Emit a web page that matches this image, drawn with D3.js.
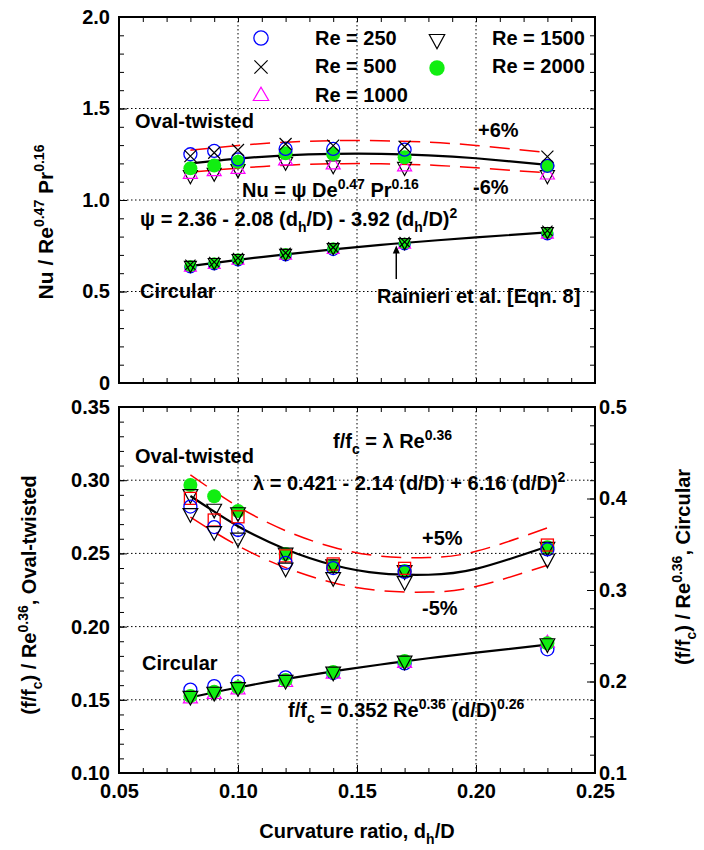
<!DOCTYPE html>
<html>
<head>
<meta charset="utf-8">
<script src="https://d3js.org/d3.v7.min.js"></script>
<style>
    body { margin: 0; background: #fff; }
    svg { font-family: "Liberation Sans", Arial, sans-serif; font-weight: bold; }
    .grid line { stroke: #000; stroke-width: 1; stroke-dasharray: 1.5,2.5; }
    .tick text { font-size: 20px; font-weight: bold; fill: #000; }
    .tick line { stroke: #000; stroke-width: 1; }
    .fit { fill: none; stroke: #000; stroke-width: 2.2; }
    .band { fill: none; stroke: #ff0000; stroke-width: 1.5; stroke-dasharray: 20,10; }
    .note { fill: #000; }
</style>
</head>
<body>
<script>
    // curvature ratios of the test coils
    var curv = [0.08, 0.09, 0.10, 0.12, 0.14, 0.17, 0.23];

    // top panel: Nu / Re^0.47 Pr^0.16, oval-twisted
    var nuOval250  = [1.250, 1.268, 1.222, 1.279, 1.279, 1.275, 1.187];
    var nuOval500  = [1.240, 1.258, 1.273, 1.306, 1.297, 1.291, 1.237];
    var nuOval1000 = [1.146, 1.160, 1.173, 1.219, 1.197, 1.187, 1.142];
    var nuOval1500 = [1.133, 1.146, 1.166, 1.206, 1.187, 1.178, 1.133];
    var nuOval2000 = [1.173, 1.188, 1.209, 1.255, 1.251, 1.233, 1.187];

    // top panel: circular
    var nuCirc250  = [0.632, 0.648, 0.670, 0.698, 0.727, 0.758, 0.812];
    var nuCirc500  = [0.646, 0.661, 0.683, 0.711, 0.741, 0.771, 0.832];
    var nuCirc1000 = [0.634, 0.650, 0.672, 0.700, 0.731, 0.760, 0.815];
    var nuCirc1500 = [0.641, 0.657, 0.679, 0.707, 0.738, 0.766, 0.826];
    var nuCirc2000 = [0.639, 0.654, 0.676, 0.705, 0.736, 0.763, 0.821];

    // fitted curves
    var fitX      = [0.08, 0.10, 0.12, 0.14, 0.16, 0.18, 0.20, 0.23];
    var nuOvalFit = [1.200, 1.226, 1.244, 1.252, 1.252, 1.244, 1.228, 1.192];
    var nuOvalUp  = [1.272, 1.298, 1.316, 1.324, 1.324, 1.316, 1.298, 1.260];
    var nuOvalLo  = [1.152, 1.174, 1.190, 1.198, 1.198, 1.191, 1.176, 1.148];
    var nuCircFit = [0.639, 0.673, 0.703, 0.730, 0.755, 0.776, 0.796, 0.823];

    // bottom panel: (f/fc) / Re^0.36, oval-twisted (left axis)
    var fOval250   = [0.2820, 0.2680, 0.2660, 0.2435, 0.2400, 0.2374, 0.2527];
    var fOvalSq    = [0.2876, 0.2728, 0.2750, 0.2483, 0.2428, 0.2398, 0.2557];
    var fOval2000  = [0.2967, 0.2890, 0.2790, 0.2496, 0.2416, 0.2379, 0.2542];
    var fOvalDnA   = [0.2900, 0.2800, 0.2776, 0.2500, 0.2420, 0.2380, 0.2540];
    var fOvalDnB   = [0.2770, 0.2647, 0.2602, 0.2398, 0.2333, 0.2306, 0.2460];
    var fOvalFit   = [0.2892, 0.2686, 0.2529, 0.2421, 0.2363, 0.2354, 0.2394, 0.2547];
    var fOvalUp    = [0.3037, 0.2820, 0.2655, 0.2542, 0.2481, 0.2472, 0.2514, 0.2674];
    var fOvalLo    = [0.2748, 0.2552, 0.2403, 0.2300, 0.2245, 0.2236, 0.2274, 0.2419];

    // bottom panel: circular (right axis)
    var fCirc250   = [0.1912, 0.1950, 0.1998, 0.2045, 0.2094, 0.2198, 0.2352];
    var fCirc1000  = [0.1820, 0.1870, 0.1920, 0.2000, 0.2090, 0.2210, 0.2430];
    var fCirc1500  = [0.1835, 0.1880, 0.1930, 0.2010, 0.2100, 0.2220, 0.2410];
    var fCirc2000  = [0.1842, 0.1889, 0.1937, 0.2016, 0.2105, 0.2224, 0.2418];
    var fCircFit   = [0.1826, 0.1934, 0.2028, 0.2111, 0.2186, 0.2254, 0.2316, 0.2402];

    // Rainieri arrow
    var arrowX = 0.1665, arrowFrom = 0.568, arrowTo = 0.752;

    var xTicks = [0.05, 0.10, 0.15, 0.20, 0.25];
    var yTopTicks = [0, 0.5, 1.0, 1.5, 2.0];
    var yBotTicks = [0.10, 0.15, 0.20, 0.25, 0.30, 0.35];
    var yRightTicks = [0.1, 0.2, 0.3, 0.4, 0.5];

    var svg = d3.select("body").append("svg")
        .attr("width", 704)
        .attr("height", 850);

    var x = d3.scaleLinear().domain([0.05, 0.25]).range([119, 595]);
    var yTop = d3.scaleLinear().domain([0, 2]).range([383, 17]);
    var yBot = d3.scaleLinear().domain([0.10, 0.35]).range([773, 407]);
    var yRight = d3.scaleLinear().domain([0.1, 0.5]).range([773, 407]);

    var xMinor = d3.range(0.06, 0.25, 0.01).map(function (d) { return +d.toFixed(2); });

    function panel(y, yMajor, yMinor, fmt) {
        var g = svg.append("g");
        var top = y.range()[1], bottom = y.range()[0];

        // grid
        var grid = g.append("g").attr("class", "grid");
        grid.selectAll(".gx").data(xTicks.slice(1, -1)).enter().append("line")
            .attr("x1", x).attr("x2", x).attr("y1", top).attr("y2", bottom);
        grid.selectAll(".gy").data(yMajor.slice(1, -1)).enter().append("line")
            .attr("x1", x.range()[0]).attr("x2", x.range()[1])
            .attr("y1", y).attr("y2", y);

        // inward ticks on every side
        g.append("g").attr("transform", "translate(0," + top + ")")
            .call(d3.axisTop(x).tickValues(xMinor).tickSize(-5).tickFormat(""));
        g.append("g").attr("transform", "translate(0," + bottom + ")")
            .call(d3.axisBottom(x).tickValues(xMinor).tickSize(-5).tickFormat(""));
        g.append("g").attr("transform", "translate(" + x.range()[0] + ",0)")
            .call(d3.axisLeft(y).tickValues(yMinor).tickSize(-5).tickFormat(""));
        g.append("g").attr("transform", "translate(" + x.range()[0] + ",0)")
            .call(d3.axisLeft(y).tickValues(yMajor).tickSize(-8).tickPadding(9).tickFormat(fmt));
        g.selectAll(".domain").remove();
        return g;
    }

    var topG = panel(yTop, yTopTicks, d3.range(0.1, 2, 0.1), function (d) { return d === 0 ? "0" : d.toFixed(1); });
    topG.append("g").attr("transform", "translate(595,0)")
        .call(d3.axisRight(yTop).tickValues(d3.range(0.1, 2, 0.1)).tickSize(-5).tickFormat(""))
        .select(".domain").remove();

    var botG = panel(yBot, yBotTicks, d3.range(0.11, 0.35, 0.01), d3.format(".2f"));
    botG.append("g").attr("transform", "translate(0,773)")
        .call(d3.axisBottom(x).tickValues(xTicks).tickSize(-8).tickPadding(11).tickFormat(d3.format(".2f")))
        .select(".domain").remove();
    botG.append("g").attr("transform", "translate(595,0)")
        .call(d3.axisRight(yRight).tickValues(d3.range(0.12, 0.5, 0.02)).tickSize(-5).tickFormat(""))
        .select(".domain").remove();
    botG.append("g").attr("transform", "translate(595,0)")
        .call(d3.axisRight(yRight).tickValues(yRightTicks).tickSize(-8).tickPadding(4).tickFormat(d3.format(".1f")))
        .select(".domain").remove();

    // markers
    function marker(g, type, cx, cy, s) {
        s = s || 1;
        if (type === "circle") {
            g.append("circle").attr("cx", cx).attr("cy", cy).attr("r", 6.5 * s)
                .attr("fill", "none").attr("stroke", "#0000ff").attr("stroke-width", 1.3);
        } else if (type === "dot") {
            g.append("circle").attr("cx", cx).attr("cy", cy).attr("r", 7 * s)
                .attr("fill", "#11ee11").attr("stroke", "none");
        } else if (type === "times") {
            var a = 6 * s;
            g.append("path").attr("d", "M" + (cx - a) + "," + (cy - a) + "L" + (cx + a) + "," + (cy + a) +
                "M" + (cx - a) + "," + (cy + a) + "L" + (cx + a) + "," + (cy - a))
                .attr("stroke", "#000").attr("stroke-width", 1.2);
        } else if (type === "triUp") {
            g.append("path").attr("d", "M" + (cx - 7 * s) + "," + (cy + 5 * s) + "L" + (cx + 7 * s) + "," + (cy + 5 * s) +
                "L" + cx + "," + (cy - 7 * s) + "Z")
                .attr("fill", "none").attr("stroke", "#ff00ff").attr("stroke-width", 1.2);
        } else if (type === "triDown") {
            g.append("path").attr("d", "M" + (cx - 7 * s) + "," + (cy - 5 * s) + "L" + (cx + 7 * s) + "," + (cy - 5 * s) +
                "L" + cx + "," + (cy + 8 * s) + "Z")
                .attr("fill", "none").attr("stroke", "#000").attr("stroke-width", 1.2);
        } else if (type === "square") {
            var h = 6 * s;
            g.append("rect").attr("x", cx - h).attr("y", cy - h).attr("width", 2 * h).attr("height", 2 * h)
                .attr("fill", "none").attr("stroke", "#ff0000").attr("stroke-width", 1.3);
        }
    }

    function series(g, vals, y, type, s) {
        var mg = g.append("g");
        vals.forEach(function (v, i) { marker(mg, type, x(curv[i]), y(v), s); });
    }

    function curve(g, vals, y, cls) {
        var line = d3.line()
            .x(function (d, i) { return x(fitX[i]); })
            .y(function (d) { return y(d); })
            .curve(d3.curveNatural);
        g.append("path").datum(vals).attr("class", cls).attr("d", line);
    }

    // top panel lines and points
    curve(topG, nuOvalUp, yTop, "band");
    curve(topG, nuOvalLo, yTop, "band");
    curve(topG, nuOvalFit, yTop, "fit");
    curve(topG, nuCircFit, yTop, "fit");

    series(topG, nuOval1500, yTop, "triDown");
    series(topG, nuOval1000, yTop, "triUp");
    series(topG, nuOval2000, yTop, "dot");
    series(topG, nuOval250, yTop, "circle");
    series(topG, nuOval500, yTop, "times");

    series(topG, nuCirc250, yTop, "circle", 0.85);
    series(topG, nuCirc1000, yTop, "triUp", 0.85);
    series(topG, nuCirc2000, yTop, "dot", 0.85);
    series(topG, nuCirc500, yTop, "times", 0.85);
    series(topG, nuCirc1500, yTop, "triDown", 0.85);

    // bottom panel lines and points
    curve(botG, fOvalUp, yBot, "band");
    curve(botG, fOvalLo, yBot, "band");
    curve(botG, fOvalFit, yBot, "fit");
    curve(botG, fCircFit, yRight, "fit");

    series(botG, fOval2000, yBot, "dot");
    series(botG, fOvalDnA, yBot, "triDown", 1.05);
    series(botG, fOvalSq, yBot, "square");
    series(botG, fOval250, yBot, "circle");
    series(botG, fOvalDnB, yBot, "triDown", 1.05);

    series(botG, fCirc250, yRight, "circle");
    series(botG, fCirc1000, yRight, "triUp");
    series(botG, fCirc2000, yRight, "dot");
    series(botG, fCirc1500, yRight, "triDown", 1.05);

    // frames
    [[17, 383], [407, 773]].forEach(function (r) {
        svg.append("rect").attr("x", 119).attr("y", r[0]).attr("width", 476).attr("height", r[1] - r[0])
            .attr("fill", "none").attr("stroke", "#000").attr("stroke-width", 2);
    });

    // arrow to Rainieri curve
    topG.append("line")
        .attr("x1", x(arrowX)).attr("x2", x(arrowX))
        .attr("y1", yTop(arrowFrom)).attr("y2", yTop(arrowTo) + 6)
        .attr("stroke", "#000").attr("stroke-width", 1.5);
    topG.append("path")
        .attr("d", "M" + (x(arrowX) - 3.5) + "," + (yTop(arrowTo) + 8) + "L" + (x(arrowX) + 3.5) + "," + (yTop(arrowTo) + 8) +
            "L" + x(arrowX) + "," + yTop(arrowTo) + "Z")
        .attr("fill", "#000");

    // text with sub/superscripts: parts = [[text, "sup"|"sub"|undefined], ...]
    function rich(g, px, py, parts, size, anchor) {
        size = size || 20;
        var t = g.append("text").attr("class", "note").attr("x", px).attr("y", py)
            .style("font-size", size + "px").attr("text-anchor", anchor || "start");
        var shift = 0;
        parts.forEach(function (p) {
            var want = p[1] === "sup" ? -0.42 * size : p[1] === "sub" ? 0.3 * size : 0;
            var ts = t.append("tspan").text(p[0]).attr("dy", want - shift);
            if (p[1]) ts.style("font-size", Math.round(size * 0.68) + "px");
            shift = want;
        });
        return t;
    }

    // legend
    var legMarks = [["circle", 261, 38], ["times", 261, 67], ["triUp", 261, 95], ["triDown", 437, 40], ["dot", 437, 68]];
    var legText = [["Re = 250", 315, 45], ["Re = 500", 315, 73], ["Re = 1000", 315, 102], ["Re = 1500", 492, 45], ["Re = 2000", 492, 73]];
    legMarks.forEach(function (m) { marker(svg, m[0], m[1], m[2], 1.1); });
    legText.forEach(function (t) { rich(svg, t[1], t[2], [[t[0]]]); });

    // annotations, top panel
    rich(svg, 135, 128, [["Oval-twisted"]]);
    rich(svg, 478, 137, [["+6%"]]);
    rich(svg, 473, 194, [["-6%"]]);
    rich(svg, 242, 197, [["Nu = \u03c8 De"], ["0.47", "sup"], [" Pr"], ["0.16", "sup"]]);
    rich(svg, 140, 226, [["\u03c8 = 2.36 - 2.08 (d"], ["h", "sub"], ["/D) - 3.92 (d"], ["h", "sub"], ["/D)"], ["2", "sup"]]);
    rich(svg, 140, 298, [["Circular"]]);
    rich(svg, 377, 303, [["Rainieri et al. [Eqn. 8]"]]);

    // annotations, bottom panel
    rich(svg, 135, 463, [["Oval-twisted"]]);
    rich(svg, 333, 448, [["f/f"], ["c", "sub"], [" = \u03bb Re"], ["0.36", "sup"]]);
    rich(svg, 253, 490, [["\u03bb = 0.421 - 2.14 (d/D) + 6.16 (d/D)"], ["2", "sup"]]);
    rich(svg, 422, 545, [["+5%"]]);
    rich(svg, 422, 615, [["-5%"]]);
    rich(svg, 142, 670, [["Circular"]]);
    rich(svg, 288, 717, [["f/f"], ["c", "sub"], [" = 0.352 Re"], ["0.36", "sup"], [" (d/D)"], ["0.26", "sup"]]);

    // axis titles
    rich(svg, 357, 838, [["Curvature ratio, d"], ["h", "sub"], ["/D"]], 20, "middle");
    rich(svg.append("g").attr("transform", "translate(53,222) rotate(-90)"), 0, 0,
        [["Nu / Re"], ["0.47", "sup"], [" Pr"], ["0.16", "sup"]], 21, "middle");
    rich(svg.append("g").attr("transform", "translate(36,595) rotate(-90)"), 0, 0,
        [["(f/f"], ["c", "sub"], [") / Re"], ["0.36", "sup"], [", Oval-twisted"]], 20, "middle");
    rich(svg.append("g").attr("transform", "translate(690,567) rotate(-90)"), 0, 0,
        [["(f/f"], ["c", "sub"], [") / Re"], ["0.36", "sup"], [", Circular"]], 20, "middle");
</script>
</body>
</html>
